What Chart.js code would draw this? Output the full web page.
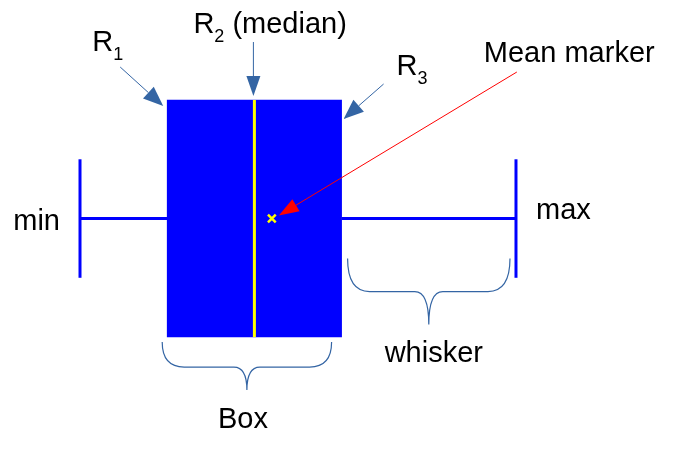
<!DOCTYPE html>
<html>
<head>
<meta charset="utf-8">
<title>Box plot diagram</title>
<script src="https://cdn.jsdelivr.net/npm/chart.js@4.4.1/dist/chart.umd.min.js"></script>
<style>
  html, body { margin: 0; padding: 0; background: #fff; }
  .wrap { width: 678px; height: 452px; position: relative; }
</style>
</head>
<body>
<div class="wrap"><canvas id="boxChart"></canvas></div>
<script>
// the statistics the diagram shows
const statNames = ["min", "R1", "R2", "mean", "R3", "max"];
const statValues = [1, 3, 5, 5.4, 7, 11];

// vertical extent of the box and of the whisker caps (box centred on 0)
const boxSpan = [-1, 1];
const capSpan = [-0.5, 0.5];

// callout texts
const calloutTexts = ["Mean marker", "whisker", "Box"];

const val = name => statValues[statNames.indexOf(name)];

const BLUE = "#0000ff";
const YELLOW = "#ffff00";
const ARROW = "#3465a4";
const FONT = '"Liberation Sans", Arial, sans-serif';

function vline(label, xv, span, color, width, order) {
  return {
    type: "scatter", label, showLine: true, order,
    data: [{ x: xv, y: span[0] }, { x: xv, y: span[1] }],
    borderColor: color, borderWidth: width, pointRadius: 0
  };
}
function hline(label, x0, x1, color, width, order) {
  return {
    type: "scatter", label, showLine: true, order,
    data: [{ x: x0, y: 0 }, { x: x1, y: 0 }],
    borderColor: color, borderWidth: width, pointRadius: 0
  };
}

// arrows, braces and labels around the box
const calloutPlugin = {
  id: "callouts",
  afterDatasetsDraw(chart) {
    const { ctx, scales: { x, y } } = chart;
    const X = v => x.getPixelForValue(v);
    const Y = v => y.getPixelForValue(v);
    const left = X(val("R1")), right = X(val("R3")), mid = X(val("R2"));
    const xMin = X(val("min")), xMax = X(val("max")), xMean = X(val("mean"));
    const top = Y(boxSpan[1]), bottom = Y(boxSpan[0]), y0 = Y(0);

    ctx.save();

    function text(str, tx, ty, size, align) {
      ctx.font = size + "px " + FONT;
      ctx.fillStyle = "#000";
      ctx.textAlign = align || "left";
      ctx.textBaseline = "alphabetic";
      ctx.fillText(str, tx, ty);
      return ctx.measureText(str).width;
    }
    // "R" with a subscript digit, optionally followed by more text
    function rLabel(sub, tx, ty, rest) {
      let w = text("R", tx, ty, 29);
      w += text(sub, tx + w, ty + 9, 18);
      if (rest) text(rest, tx + w, ty, 29);
    }
    function arrow(x0, y0_, x1, y1, color, len, half) {
      const a = Math.atan2(y1 - y0_, x1 - x0);
      const bx = x1 - len * Math.cos(a), by = y1 - len * Math.sin(a);
      ctx.strokeStyle = color;
      ctx.fillStyle = color;
      ctx.lineWidth = 1;
      ctx.beginPath();
      ctx.moveTo(x0, y0_);
      ctx.lineTo(bx, by);
      ctx.stroke();
      ctx.beginPath();
      ctx.moveTo(x1, y1);
      ctx.lineTo(bx + half * Math.sin(a), by - half * Math.cos(a));
      ctx.lineTo(bx - half * Math.sin(a), by + half * Math.cos(a));
      ctx.closePath();
      ctx.fill();
    }
    // curly brace opening upward, tip pointing down
    function brace(x1, x2, yTop, yMid, yTip, q1, q2) {
      const xm = (x1 + x2) / 2;
      ctx.strokeStyle = ARROW;
      ctx.lineWidth = 1.2;
      ctx.beginPath();
      ctx.moveTo(x1, yTop);
      ctx.quadraticCurveTo(x1, yMid, x1 + q1, yMid);
      ctx.lineTo(xm - q2, yMid);
      ctx.quadraticCurveTo(xm, yMid, xm, yTip);
      ctx.quadraticCurveTo(xm, yMid, xm + q2, yMid);
      ctx.lineTo(x2 - q1, yMid);
      ctx.quadraticCurveTo(x2, yMid, x2, yTop);
      ctx.stroke();
    }

    // quartile labels and their arrows
    rLabel("1", left - 75, top - 49);
    arrow(left - 47, top - 33, left - 4, top + 6, ARROW, 20, 8);
    rLabel("2", mid - 61, top - 67, " (median)");
    arrow(mid - 1, top - 58, mid - 1, top - 4, ARROW, 20, 7);
    rLabel("3", right + 55, top - 25);
    arrow(right + 42, top - 16, right + 2, top + 19, ARROW, 20, 8);

    // mean marker callout
    text(calloutTexts[0], xMean + 212, top - 38, 29);
    arrow(xMean + 245, top - 28, xMean + 7, y0 - 3, "#ff0000", 20, 7);

    // extremes
    text("min", xMin - 20, y0 + 11, 29, "right");
    text("max", xMax + 20, y0, 29);

    // whisker brace
    const wx1 = right + 6, wx2 = xMax - 6;
    brace(wx1, wx2, y0 + 40, y0 + 73, y0 + 106, 22, 14);
    text(calloutTexts[1], (wx1 + wx2) / 2 + 5, bottom + 25, 29, "center");

    // box brace
    const bx1 = left - 5, bx2 = right - 10;
    brace(bx1, bx2, bottom + 5, bottom + 30, bottom + 53, 22, 13);
    text(calloutTexts[2], (bx1 + bx2) / 2 - 4, bottom + 91, 29, "center");

    ctx.restore();
  }
};

new Chart(document.getElementById("boxChart"), {
  type: "scatter",
  data: {
    datasets: [
      {
        type: "scatter", label: "mean", order: 0,
        data: [{ x: val("mean"), y: 0 }],
        pointStyle: "crossRot", pointRadius: 5.5,
        borderColor: YELLOW, backgroundColor: YELLOW, borderWidth: 2.5
      },
      vline("median", val("R2"), boxSpan, YELLOW, 3, 1),
      hline("lower whisker", val("min"), val("R1"), BLUE, 3, 2),
      hline("upper whisker", val("R3"), val("max"), BLUE, 3, 2),
      vline("min cap", val("min"), capSpan, BLUE, 3, 2),
      vline("max cap", val("max"), capSpan, BLUE, 3, 2),
      {
        type: "bar", label: "box", order: 3, indexAxis: "y",
        data: [{ x: [val("R1"), val("R3")], y: 0 }],
        backgroundColor: BLUE, borderWidth: 0, grouped: false,
        barThickness: ctx => {
          const s = ctx.chart.scales.y;
          return Math.abs(s.getPixelForValue(boxSpan[0]) - s.getPixelForValue(boxSpan[1]));
        }
      }
    ]
  },
  options: {
    responsive: true,
    maintainAspectRatio: false,
    animation: false,
    events: [],
    layout: { padding: 0, autoPadding: false },
    plugins: { legend: { display: false }, tooltip: { enabled: false } },
    scales: {
      x: { type: "linear", display: false, offset: false, min: -0.835, max: 14.716 },
      y: { type: "linear", display: false, offset: false, min: -1.97, max: 1.844 }
    }
  },
  plugins: [calloutPlugin]
});
</script>
</body>
</html>
